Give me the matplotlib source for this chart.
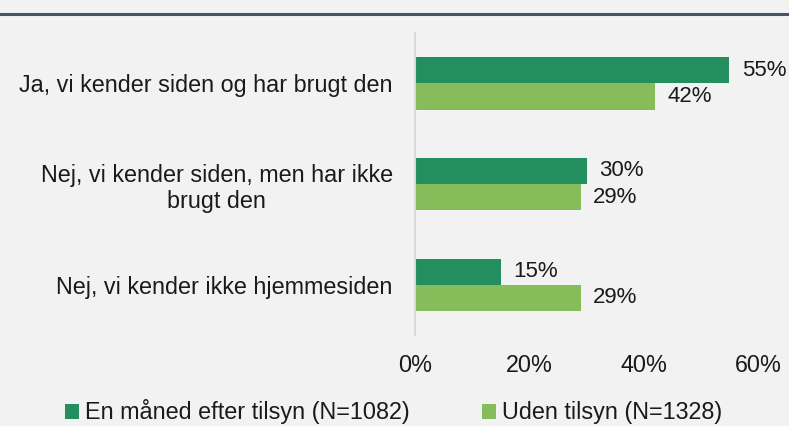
import matplotlib.pyplot as plt
import numpy as np
from matplotlib.lines import Line2D
from matplotlib.patches import Patch

plt.rcParams['font.family'] = ['Liberation Sans', 'DejaVu Sans']

# === Data ===
categories = ['Ja, vi kender siden og har brugt den',
              'Nej, vi kender siden, men har ikke\nbrugt den',
              'Nej, vi kender ikke hjemmesiden']
efter_tilsyn = [55, 30, 15]
uden_tilsyn = [42, 29, 29]
series_names = ['En måned efter tilsyn (N=1082)', 'Uden tilsyn (N=1328)']
ticks = [0, 20, 40, 60]

DARK = '#238E5E'
LIGHT = '#86BC5A'
BG = '#F2F2F2'
TXT = '#1a1a1a'
FS = 16.8

fig = plt.figure(figsize=(7.89, 4.26), dpi=100, facecolor=BG)
ax = fig.add_axes([415 / 789, 0.2136, (758 - 415) / 789, 0.7089])
ax.set_facecolor(BG)

y = np.arange(len(categories))
h = 0.26
bars1 = ax.barh(y - h / 2, efter_tilsyn, height=h, color=DARK)
bars2 = ax.barh(y + h / 2, uden_tilsyn, height=h, color=LIGHT)

for bars, vals in [(bars1, efter_tilsyn), (bars2, uden_tilsyn)]:
    for b, v in zip(bars, vals):
        ax.annotate(f'{v}%', (b.get_width(), b.get_y() + b.get_height() / 2),
                    xytext=(9, 0), textcoords='offset points',
                    ha='left', va='center', fontsize=16, color=TXT,
                    annotation_clip=False)

ax.set_ylim(len(categories) - 0.5, -0.5)
ax.set_xlim(0, 60)
ax.set_xticks(ticks)
ax.set_xticklabels([f'{t}%' for t in ticks], fontsize=FS, color=TXT)
ax.set_yticks(y)
ax.set_yticklabels(categories, fontsize=FS, color=TXT,
                   multialignment='center')
ax.tick_params(axis='both', length=0)
ax.tick_params(axis='y', pad=16)
ax.tick_params(axis='x', pad=14)

for side in ['top', 'right', 'bottom']:
    ax.spines[side].set_visible(False)
ax.spines['left'].set_color('#D9D9D9')
ax.spines['left'].set_linewidth(1.5)

# header rule
fig.add_artist(Line2D([0, 1], [1 - 14 / 426] * 2, transform=fig.transFigure,
                      color='#44546A', linewidth=2.2))

handles = [Patch(facecolor=DARK), Patch(facecolor=LIGHT)]
fig.legend(handles, series_names, loc='center left',
           bbox_to_anchor=(65 / 789, 1 - 412 / 426), ncol=2, frameon=False,
           fontsize=FS, handlelength=0.6, handleheight=0.6,
           handletextpad=0.26, columnspacing=3.1, labelcolor=TXT,
           borderpad=0, borderaxespad=0)

fig.savefig('out.png', dpi=100, facecolor=BG)
